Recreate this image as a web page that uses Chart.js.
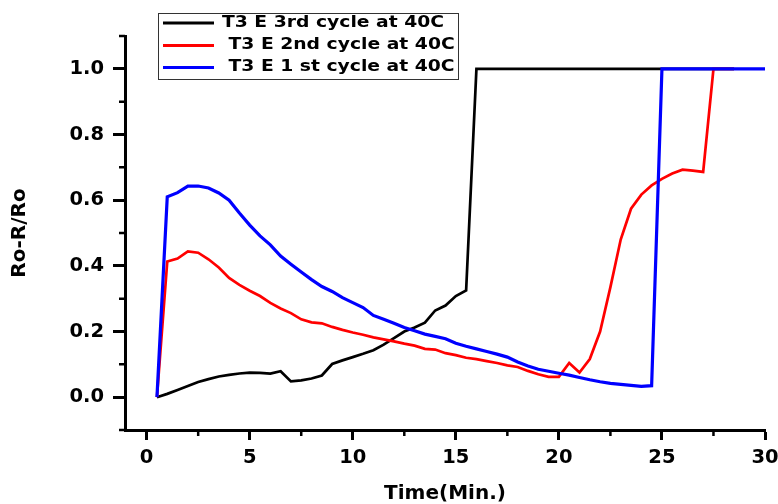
<!DOCTYPE html>
<html>
<head>
<meta charset="utf-8">
<script src="https://cdn.jsdelivr.net/npm/chart.js@4.4.1/dist/chart.umd.min.js"></script>
<style>
  html, body { margin: 0; padding: 0; background: #fff; }
  #wrap { width: 778px; height: 504px; position: relative; }
</style>
</head>
<body>
<div id="wrap"><canvas id="chart-1"></canvas></div>
<script>
// time axis (min.)
var time = [0.5, 1, 1.5, 2, 2.5, 3, 3.5, 4, 4.5, 5, 5.5, 6, 6.5, 7, 7.5, 8, 8.5, 9, 9.5, 10,
    10.5, 11, 11.5, 12, 12.5, 13, 13.5, 14, 14.5, 15, 15.5, 16, 16.5, 17, 17.5, 18, 18.5, 19, 19.5, 20,
    20.5, 21, 21.5, 22, 22.5, 23, 23.5, 24, 24.5, 25, 25.5, 26, 26.5, 27, 27.5, 28, 28.5, 29, 29.5, 30];

// Ro-R/Ro for each cycle
var cycle3 = [0, 0.010, 0.022, 0.034, 0.046, 0.055, 0.063, 0.068, 0.072, 0.075, 0.074, 0.072, 0.079, 0.048, 0.051,
    0.057, 0.066, 0.101, 0.112, 0.122, 0.132, 0.143, 0.160, 0.180, 0.200, 0.212, 0.227, 0.264, 0.279, 0.308, 0.325,
    1, 1, 1, 1, 1, 1, 1, 1, 1, 1, 1, 1, 1, 1, 1, 1, 1, 1, 1, 1, 1, 1, 1, 1, 1, 1];
var cycle2 = [0, 0.413, 0.422, 0.444, 0.440, 0.420, 0.395, 0.363, 0.342, 0.324, 0.308, 0.287, 0.270, 0.256, 0.237,
    0.228, 0.225, 0.214, 0.205, 0.197, 0.190, 0.182, 0.176, 0.170, 0.163, 0.157, 0.147, 0.145, 0.134, 0.128, 0.120,
    0.116, 0.110, 0.104, 0.097, 0.092, 0.080, 0.070, 0.062, 0.062, 0.104, 0.075, 0.116, 0.200, 0.335, 0.480, 0.574,
    0.617, 0.645, 0.665, 0.681, 0.693, 0.690, 0.686, 1, 1, 1];
var cycle1 = [0, 0.610, 0.623, 0.643, 0.643, 0.637, 0.622, 0.600, 0.561, 0.524, 0.491, 0.464, 0.430, 0.405, 0.381,
    0.358, 0.337, 0.322, 0.303, 0.288, 0.273, 0.249, 0.237, 0.225, 0.212, 0.202, 0.192, 0.185, 0.178, 0.164, 0.155,
    0.147, 0.139, 0.131, 0.122, 0.107, 0.095, 0.085, 0.079, 0.073, 0.067, 0.060, 0.053, 0.047, 0.042, 0.039, 0.036,
    0.033, 0.035, 1, 1, 1, 1, 1, 1, 1, 1, 1, 1, 1];

var xTicks = [0, 5, 10, 15, 20, 25, 30];
var yTicks = [0, 0.2, 0.4, 0.6, 0.8, 1.0];
var xMinor = [2.5, 7.5, 12.5, 17.5, 22.5, 27.5];
var yMinor = [-0.1, 0.1, 0.3, 0.5, 0.7, 0.9, 1.1];

var labels = ['T3 E 3rd cycle at 40C', ' T3 E 2nd cycle at 40C', ' T3 E 1 st cycle at 40C'];
var colors = ['#000000', '#ff0000', '#0000ff'];

function points(ys) {
    return ys.map(function (y, i) { return { x: time[i], y: y }; });
}

// short outward ticks between the labelled ones
var minorTicks = {
    id: 'minorTicks',
    afterDraw: function (chart) {
        var ctx = chart.ctx, area = chart.chartArea;
        var sx = chart.scales.x, sy = chart.scales.y;
        ctx.save();
        ctx.strokeStyle = '#000';
        ctx.lineWidth = 2.5;
        ctx.beginPath();
        xMinor.forEach(function (v) {
            var px = sx.getPixelForValue(v);
            ctx.moveTo(px, area.bottom);
            ctx.lineTo(px, area.bottom + 6);
        });
        yMinor.forEach(function (v) {
            var py = sy.getPixelForValue(v);
            ctx.moveTo(area.left, py);
            ctx.lineTo(area.left - 6, py);
        });
        ctx.stroke();
        ctx.restore();
    }
};

// boxed legend in the top left corner
var boxLegend = {
    id: 'boxLegend',
    afterDraw: function (chart) {
        var ctx = chart.ctx;
        ctx.save();
        ctx.strokeStyle = '#333';
        ctx.lineWidth = 1;
        ctx.strokeRect(158.5, 13.5, 300, 66);
        var rows = [23, 45.5, 67.5];
        ctx.font = 'bold 15px "DejaVu Sans"';
        ctx.textBaseline = 'middle';
        ctx.fillStyle = '#000';
        rows.forEach(function (y, i) {
            ctx.strokeStyle = colors[i];
            ctx.lineWidth = 3;
            ctx.beginPath();
            ctx.moveTo(163, y);
            ctx.lineTo(214, y);
            ctx.stroke();
            ctx.save();
            ctx.translate(222, y);
            ctx.scale(1.25, 1);
            ctx.fillText(labels[i], 0, 0);
            ctx.restore();
        });
        ctx.restore();
    }
};

Chart.defaults.font.family = '"DejaVu Sans", sans-serif';
Chart.defaults.font.weight = 'bold';
Chart.defaults.color = '#000';

new Chart(document.getElementById('chart-1'), {
    type: 'line',
    data: {
        datasets: [cycle3, cycle2, cycle1].map(function (ys, i) {
            return {
                label: labels[i],
                data: points(ys),
                borderColor: colors[i],
                borderWidth: i == 2 ? 3.2 : 2.7,
                pointRadius: 0,
                tension: 0,
                fill: false,
                order: 3 - i
            };
        })
    },
    options: {
        responsive: true,
        maintainAspectRatio: false,
        animation: false,
        layout: { padding: { top: 36, right: 4, left: 0, bottom: 0 } },
        plugins: { legend: { display: false }, tooltip: { enabled: false } },
        scales: {
            x: {
                type: 'linear',
                min: -1.05,
                max: 30,
                afterBuildTicks: function (axis) { axis.ticks = xTicks.map(function (v) { return { value: v }; }); },
                afterFit: function (axis) {
                    axis.height = 74;
                    axis.paddingRight = 13;
                },
                grid: { drawOnChartArea: false, drawTicks: true, tickLength: 10, tickWidth: 3, tickColor: '#000' },
                border: { display: true, width: 3, color: '#000' },
                ticks: { padding: 6, maxRotation: 0, font: { size: 19.5, weight: 'bold' } },
                title: { display: true, text: 'Time(Min.)', font: { size: 20, weight: 'bold' }, padding: { top: 0, bottom: -2 } }
            },
            y: {
                min: -0.1,
                max: 1.1,
                afterBuildTicks: function (axis) { axis.ticks = yTicks.map(function (v) { return { value: v }; }); },
                afterFit: function (axis) { axis.width = 125; },
                grid: { drawOnChartArea: false, drawTicks: true, tickLength: 12, tickWidth: 3, tickColor: '#000' },
                border: { display: true, width: 3, color: '#000' },
                ticks: {
                    padding: 9,
                    font: { size: 19.5, weight: 'bold' },
                    callback: function (v) { return v.toFixed(1); }
                },
                title: { display: true, text: 'Ro-R/Ro', font: { size: 20, weight: 'bold' }, padding: { top: 8, bottom: 0 } }
            }
        }
    },
    plugins: [minorTicks, boxLegend]
});
</script>
</body>
</html>
